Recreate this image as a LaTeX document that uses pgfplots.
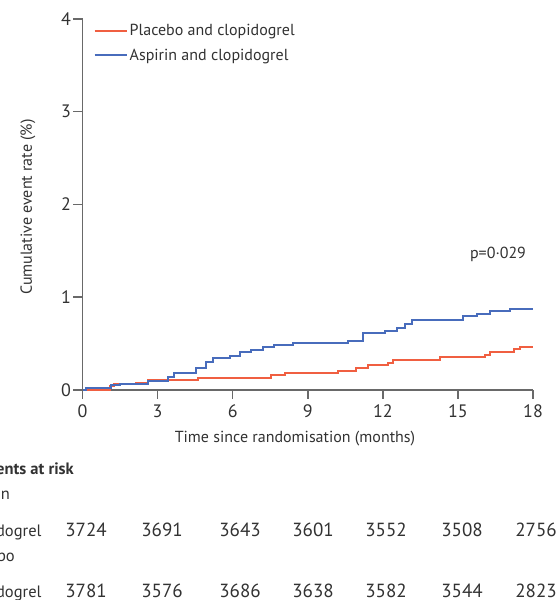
\documentclass[border=0pt]{standalone}
\usepackage{pgfplots}
\pgfplotsset{compat=1.18}
\usepackage{fontspec}
\setmainfont{PT Sans}
\definecolor{redc}{RGB}{240,95,65}
\definecolor{bluec}{RGB}{72,108,188}
\definecolor{axgray}{RGB}{105,105,105}
\definecolor{txt}{RGB}{50,50,50}
\pgfplotstableread{
t v
0 0
1.1 0.04
1.25 0.06
2.15 0.08
2.6 0.105
4.6 0.13
7.54 0.16
8.1 0.184
10.2 0.21
10.94 0.24
11.4 0.265
12.2 0.29
12.4 0.325
14.3 0.353
16.1 0.38
16.3 0.41
17.23 0.44
17.5 0.466
18 0.466
}\placebo
\pgfplotstableread{
t v
0 0
0.15 0.02
1.15 0.05
1.5 0.07
2.6 0.1
3.4 0.14
3.65 0.18
4.55 0.24
4.95 0.3
5.2 0.34
5.88 0.37
6.28 0.41
6.74 0.43
7.2 0.46
7.67 0.485
8.4 0.51
10.6 0.53
11.2 0.61
12.08 0.64
12.55 0.67
12.9 0.71
13.15 0.75
15.2 0.795
15.76 0.82
16.3 0.85
17.1 0.876
18 0.876
}\aspirin
\begin{document}
\begin{tikzpicture}
\useasboundingbox (0pt,0pt) rectangle (557pt,600pt);
\clip (0pt,0pt) rectangle (557pt,600pt);
\begin{axis}[
  at={(82.5pt,210pt)}, anchor=south west,
  scale only axis, width=450.5pt, height=371pt,
  xmin=0, xmax=18, ymin=0, ymax=4,
  axis lines=left,
  axis line style={-, axgray, line width=1.6pt},
  xtick={0,3,...,18}, ytick={0,1,2,3,4},
  tick align=outside, major tick length=9pt,
  tick style={axgray, line width=1.5pt},
  ticklabel style={font=\fontsize{18}{20}\selectfont, text=txt},
  xticklabel style={yshift=-2pt},
  yticklabel style={xshift=1pt},
  /pgf/number format/assume math mode=true,
  clip=false,
  legend style={at={(axis cs:0,4)}, anchor=north west, xshift=8pt, yshift=-1pt,
    draw=none, fill=none, font=\fontsize{16}{18}\selectfont, text=txt, row sep=8pt},
  legend cell align=left,
  legend image code/.code={\draw[#1, line width=2pt] (0pt,0pt) -- (32pt,0pt);},
]
\addplot[const plot, redc, line width=2pt] table[x=t, y=v] {\placebo};
\addlegendentry{Placebo and clopidogrel}
\addplot[const plot, bluec, line width=2pt] table[x=t, y=v] {\aspirin};
\addlegendentry{Aspirin and clopidogrel}
\end{axis}
\node[anchor=base, rotate=90, text=txt, font=\fontsize{16}{18}\selectfont] at (32pt,393pt) {Cumulative event rate (\%)};
\node[anchor=base, text=txt, font=\fontsize{16}{18}\selectfont] at (295pt,157pt) {Time since randomisation (months)};
\node[anchor=base, text=txt, font=\fontsize{16}{18}\selectfont] at (498pt,341pt) {p=0·029};
\begin{scope}[every node/.style={text=txt, font=\fontsize{16.5}{20}\selectfont, inner sep=0pt}]
\node[anchor=base east, font=\fontsize{16.5}{20}\selectfont\bfseries] at (74pt,125pt) {Patients at risk};
\node[anchor=base east] at (10pt,100pt) {Aspirin};
\node[anchor=base east] at (41.7pt,63pt) {and clopidogrel};
\node[anchor=base east] at (15pt,38pt) {Placebo};
\node[anchor=base east] at (41.7pt,2pt) {and clopidogrel};
\end{scope}
\begin{scope}[every node/.style={text=txt, font=\fontsize{19}{22}\selectfont, inner sep=0pt}]
\foreach \x/\a/\b in {86/3724/3781, 162/3691/3576, 240/3643/3686, 313/3601/3638, 386/3552/3582, 462/3508/3544, 536/2756/2823}{
  \node[anchor=base] at (\x pt,63pt) {\a};
  \node[anchor=base] at (\x pt,2pt) {\b};
}
\end{scope}
\end{tikzpicture}
\end{document}
